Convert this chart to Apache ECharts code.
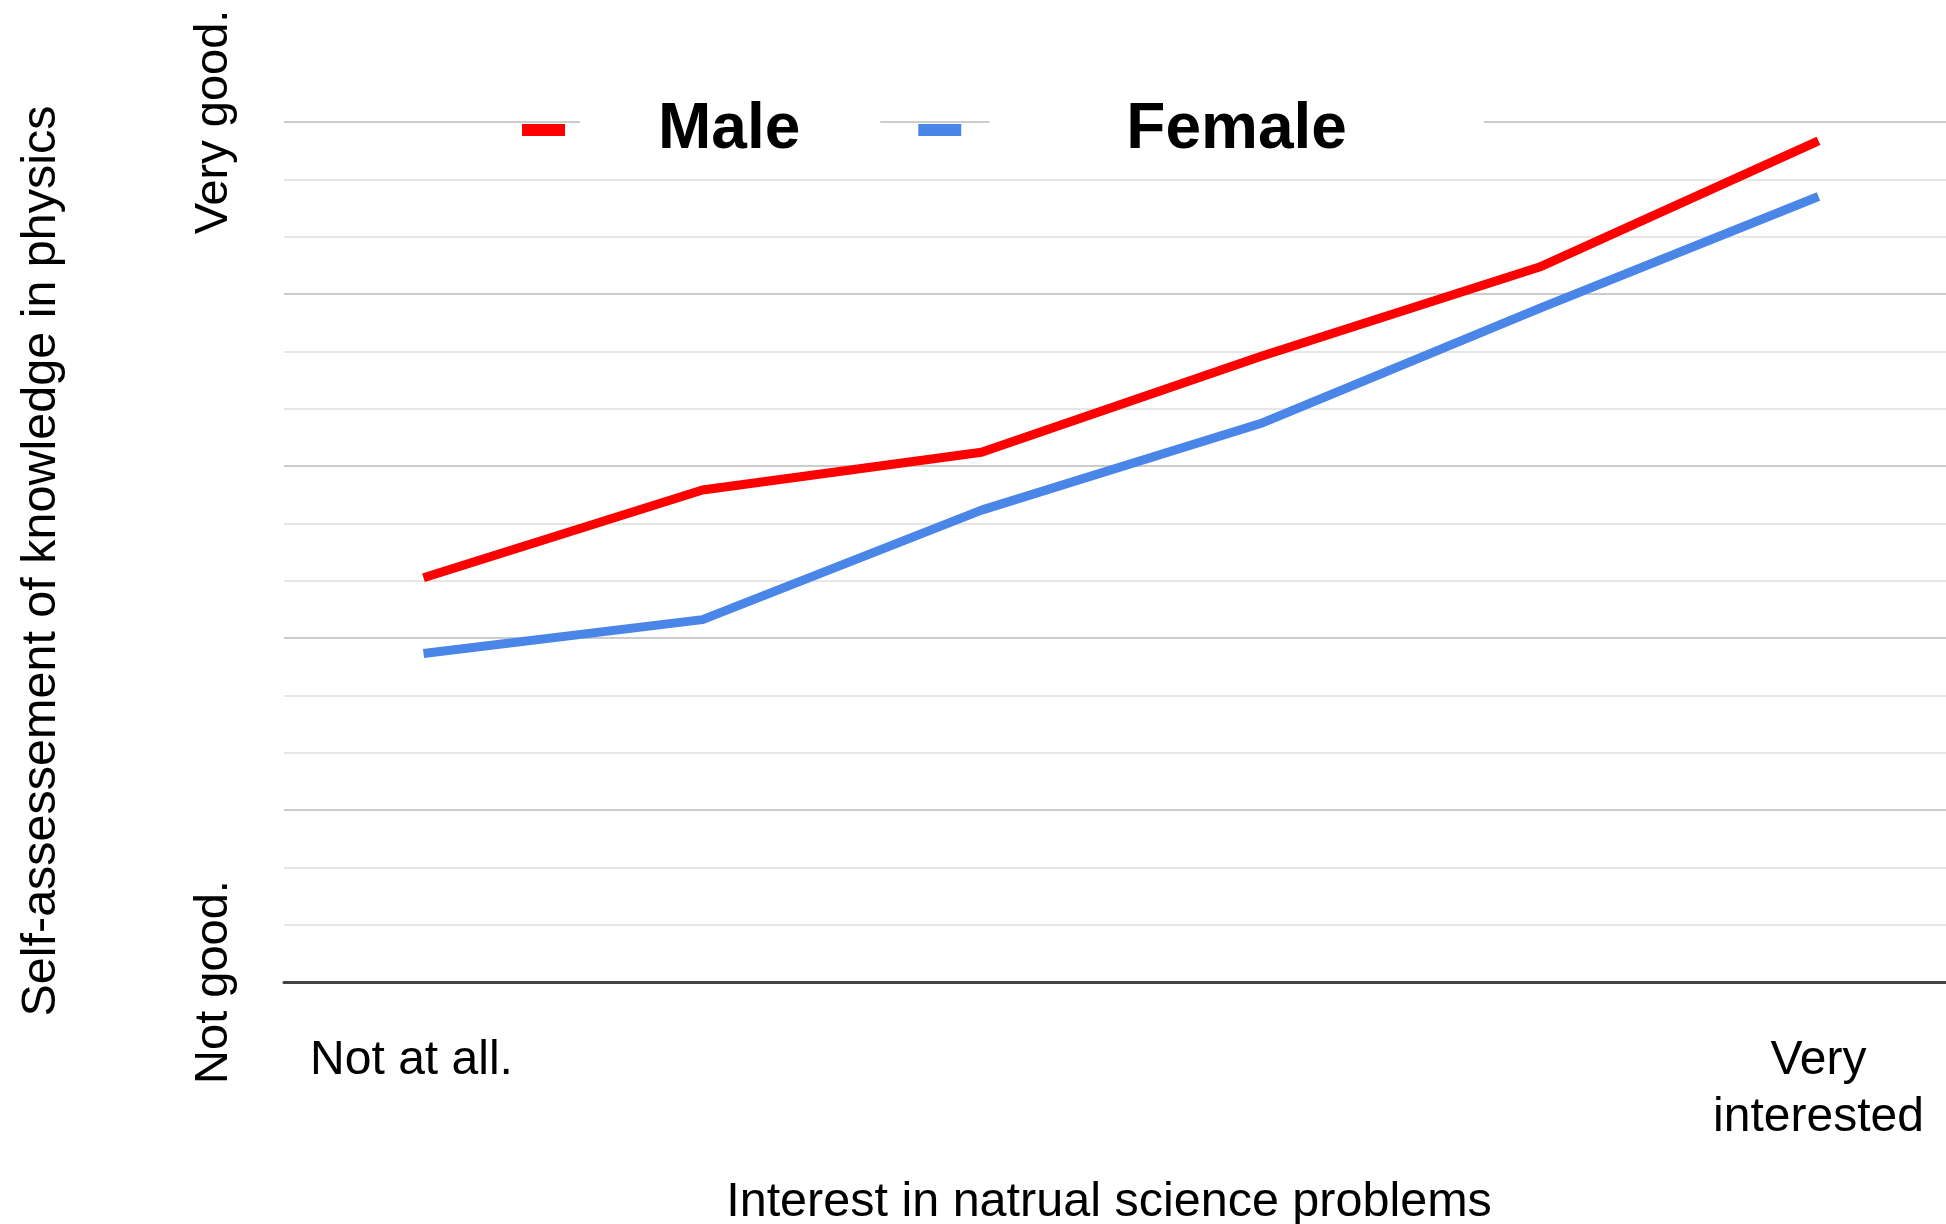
<!DOCTYPE html>
<html>
<head>
<meta charset="utf-8">
<script src="https://cdn.jsdelivr.net/npm/echarts@6/dist/echarts.min.js"></script>
<style>
html,body{margin:0;padding:0;background:#fff;}
#chart{width:1946px;height:1224px;}
</style>
</head>
<body>
<div id="chart"></div>
<script>
const categories = ['Not at all.', 'Level 2', 'Level 3', 'Level 4', 'Level 5', 'Very interested'];
const xTickLabels = ['Not at all.', '', '', '', '', 'Very\ninterested'];
const yTickLabels = ['Not good.', 'Very good.'];
const seriesNames = ['Male', 'Female'];
const maleValues = [7.05, 8.58, 9.24, 10.91, 12.47, 14.67];
const femaleValues = [5.73, 6.32, 8.23, 9.74, 11.75, 13.70];
const xTitle = 'Interest in natrual science problems';
const yTitle = 'Self-assessement of knowledge in physics';

const FONT = 'Liberation Sans, Arial, Helvetica, sans-serif';
const chart = echarts.init(document.getElementById('chart'), null, {renderer: 'canvas'});
const legendFont = {fontFamily: FONT, fontSize: 64, fontWeight: 'bold', color: '#000', lineHeight: 64};
chart.setOption({
  animation: false,
  backgroundColor: '#ffffff',
  grid: {left: 284, right: -12, top: 122, bottom: 242, containLabel: false, outerBoundsMode: 'none'},
  legend: {
    left: 522, top: 93, padding: 0, itemGap: 38,
    icon: 'rect', itemWidth: 43, itemHeight: 12,
    selectedMode: false,
    data: seriesNames,
    formatter: name => name === seriesNames[0] ? '{g1|}{m|' + name + '}' : '{g2|}{f|' + name + '}',
    textStyle: Object.assign({padding: [5, 0, 5, 0], rich: {
      g1: {width: 10, height: 64},
      g2: {width: 23, height: 64},
      m: Object.assign({backgroundColor: '#fff', padding: [0, 80, 0, 78]}, legendFont),
      f: Object.assign({backgroundColor: '#fff', padding: [0, 137, 0, 137]}, legendFont)
    }}, legendFont)
  },
  xAxis: {
    type: 'category', data: categories, boundaryGap: true,
    name: xTitle, nameLocation: 'middle', nameGap: 196,
    nameTextStyle: {fontFamily: FONT, fontSize: 48.5, color: '#000', padding: [0, 24, 0, 0]},
    axisLine: {show: true, lineStyle: {color: '#444', width: 3}},
    axisTick: {show: false},
    axisLabel: {
      interval: 0, margin: 50, color: '#000', fontFamily: FONT, fontSize: 48, lineHeight: 57,
      formatter: (v, i) => i === 0 ? '{a|' + xTickLabels[i] + '}' : xTickLabels[i],
      rich: {a: {fontFamily: FONT, fontSize: 48, lineHeight: 57, color: '#000', padding: [0, 24, 0, 0]}}
    },
    splitLine: {show: false}
  },
  yAxis: {
    type: 'value', min: 0, max: 15, interval: 3,
    name: yTitle, nameLocation: 'middle', nameGap: 218,
    nameTextStyle: {fontFamily: FONT, fontSize: 48.5, color: '#000', padding: [0, 18, 0, 0]},
    axisLine: {show: false}, axisTick: {show: false},
    axisLabel: {
      rotate: 90, margin: 46, color: '#000', fontFamily: FONT, fontSize: 47,
      showMinLabel: true, showMaxLabel: true,
      formatter: v => v === 0 ? yTickLabels[0] : (v === 15 ? yTickLabels[1] : '')
    },
    splitLine: {show: true, lineStyle: {color: '#cccccc', width: 2}},
    minorTick: {show: false, splitNumber: 3},
    minorSplitLine: {show: true, lineStyle: {color: '#e6e6e6', width: 2}}
  },
  series: [
    {name: seriesNames[0], type: 'line', data: maleValues, symbol: 'none', smooth: false,
     lineStyle: {color: '#ff0000', width: 9, join: 'round'}, itemStyle: {color: '#ff0000'}},
    {name: seriesNames[1], type: 'line', data: femaleValues, symbol: 'none', smooth: false,
     lineStyle: {color: '#4a86e8', width: 9, join: 'round'}, itemStyle: {color: '#4a86e8'}}
  ]
});
</script>
</body>
</html>
